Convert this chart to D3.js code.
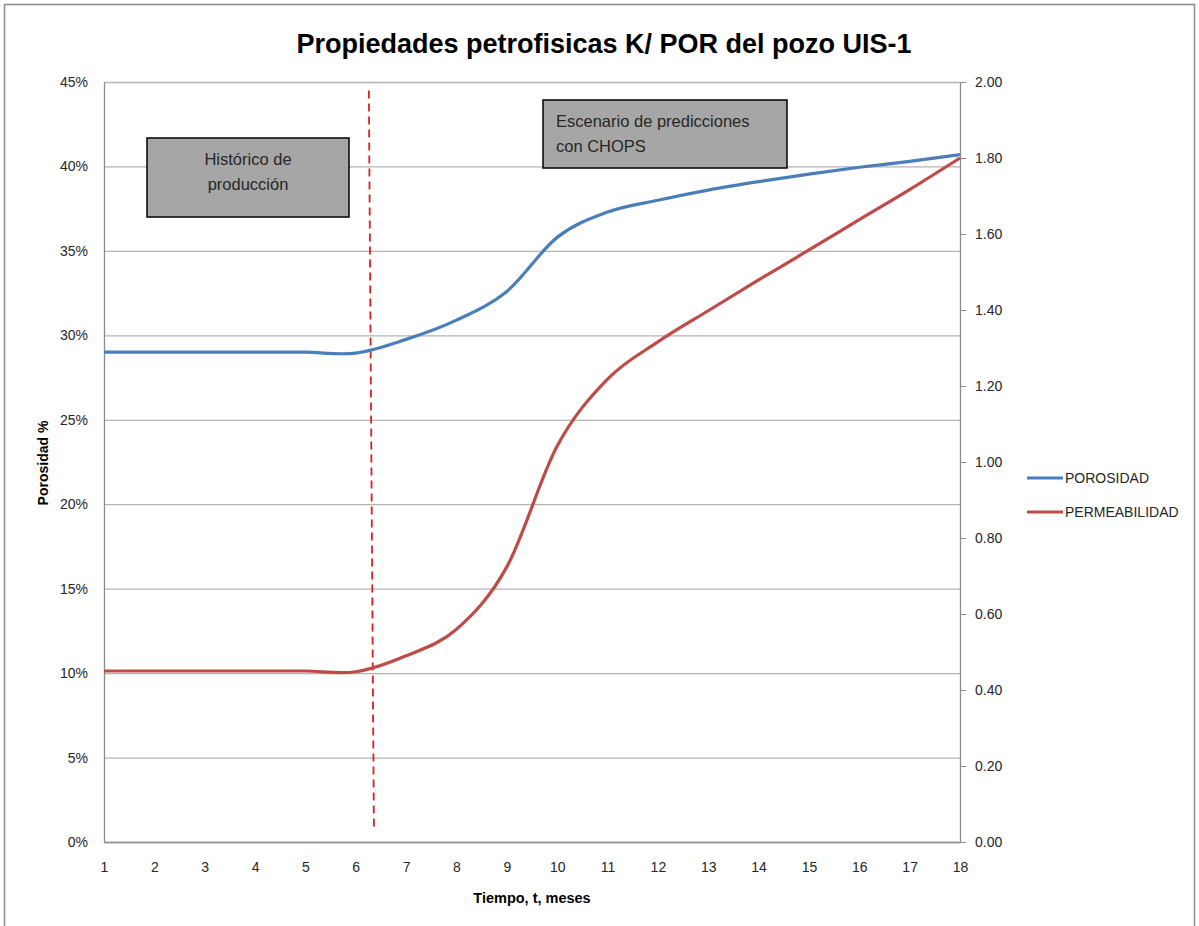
<!DOCTYPE html>
<html lang="es">
    <head>
        <meta charset="utf-8">
        <script src="https://d3js.org/d3.v7.min.js"></script>
        <title>Propiedades petrofisicas K/ POR del pozo UIS-1</title>
        <style>
            body { margin: 0; background: #ffffff; }
            text { font-family: "Liberation Sans", Arial, sans-serif; fill: #262626; }
        </style>
    </head>
    <body>
        <div id="chart"></div>
        <script type="text/javascript">
            // data
            var months = [1, 2, 3, 4, 5, 6, 7, 8, 9, 10, 11, 12, 13, 14, 15, 16, 17, 18];
            var porosidad = [29.0, 29.0, 29.0, 29.0, 29.0, 28.95, 29.76, 30.9, 32.6, 35.8, 37.3, 38.0, 38.6, 39.1, 39.55, 39.95, 40.3, 40.7];
            var permeabilidad = [0.45, 0.45, 0.45, 0.45, 0.45, 0.448, 0.49, 0.56, 0.724, 1.042, 1.218, 1.316, 1.398, 1.479, 1.558, 1.638, 1.717, 1.80];
            var porTicks = [0, 5, 10, 15, 20, 25, 30, 35, 40, 45];
            var permTicks = [0, 0.2, 0.4, 0.6, 0.8, 1.0, 1.2, 1.4, 1.6, 1.8, 2.0];
            var seriesNames = ["POROSIDAD", "PERMEABILIDAD"];
            var title = "Propiedades petrofisicas K/ POR del pozo UIS-1";
            var boxLabels = [["Histórico de", "producción"], ["Escenario de predicciones", "con CHOPS"]];

            var W = 1199, H = 926;
            var margin = {top: 82, right: 239, bottom: 84, left: 104},
                width = W - margin.left - margin.right,
                height = H - margin.top - margin.bottom;

            var blue = "#4a7ebb", red = "#be4b48";

            var root = d3.select("#chart")
                .append("svg")
                    .attr("width", W)
                    .attr("height", H);

            // outer chart border
            root.append("rect")
                .attr("x", 4.5).attr("y", 4.5)
                .attr("width", 1190).attr("height", 940)
                .attr("fill", "none")
                .attr("stroke", "#8c8c8c")
                .attr("stroke-width", 1.5);

            root.append("text")
                .attr("x", 604)
                .attr("y", 53)
                .attr("text-anchor", "middle")
                .style("font-size", "27px")
                .style("font-weight", "bold")
                .style("fill", "#000")
                .text(title);

            var svg = root.append("g")
                .attr("transform", "translate(" + margin.left + "," + margin.top + ")");

            var x = d3.scaleLinear().domain([1, 18]).range([0, width]);
            var yL = d3.scaleLinear().domain([0, 45]).range([height, 0]);
            var yR = d3.scaleLinear().domain([0, 2]).range([height, 0]);

            // horizontal gridlines (left axis)
            var grid = svg.append("g")
                .call(d3.axisLeft(yL).tickValues(porTicks).tickSize(-width).tickFormat(""));
            grid.select(".domain").remove();
            grid.selectAll("line").attr("stroke", "#b3b3b3").attr("stroke-width", 1.3);

            // left axis
            var left = svg.append("g")
                .call(d3.axisLeft(yL).tickValues(porTicks).tickSize(0).tickPadding(16)
                    .tickFormat(function(d) { return d + "%"; }));
            left.select(".domain").attr("stroke", "#8c8c8c").attr("stroke-width", 1.3);
            left.selectAll("text").style("font-size", "14px").style("font-family", "Liberation Sans").attr("fill", "#262626");

            // bottom axis
            var bottom = svg.append("g")
                .attr("transform", "translate(0," + height + ")")
                .call(d3.axisBottom(x).tickValues(months).tickSize(0).tickPadding(20)
                    .tickFormat(d3.format("d")));
            bottom.select(".domain").attr("stroke", "#8c8c8c").attr("stroke-width", 1.3);
            bottom.selectAll("text").style("font-size", "14px").style("font-family", "Liberation Sans").attr("fill", "#262626");

            // right axis
            var right = svg.append("g")
                .attr("transform", "translate(" + width + ",0)")
                .call(d3.axisRight(yR).tickValues(permTicks).tickSize(6).tickPadding(9)
                    .tickSizeOuter(0)
                    .tickFormat(d3.format(".2f")));
            right.select(".domain").attr("stroke", "#8c8c8c").attr("stroke-width", 1.3);
            right.selectAll("line").attr("stroke", "#8c8c8c");
            right.selectAll("text").style("font-size", "14px").style("font-family", "Liberation Sans").attr("fill", "#262626");

            // axis titles
            svg.append("text")
                .attr("text-anchor", "middle")
                .attr("x", 428)
                .attr("y", height + 61)
                .style("font-size", "14.5px")
                .style("font-weight", "bold")
                .style("fill", "#000")
                .text("Tiempo, t, meses");

            svg.append("text")
                .attr("text-anchor", "middle")
                .attr("transform", "rotate(-90)")
                .attr("x", -(463 - margin.top))
                .attr("y", -56)
                .style("font-size", "14px")
                .style("font-weight", "bold")
                .style("fill", "#000")
                .text("Porosidad %");

            // annotation boxes
            var boxes = [
                {x0: 147, y0: 138, x1: 349, y1: 217, anchor: "middle", tx: 248, ty: 165},
                {x0: 543, y0: 100, x1: 787, y1: 168, anchor: "start", tx: 556, ty: 127}
            ];
            boxes.forEach(function(b, i) {
                root.append("rect")
                    .attr("x", b.x0).attr("y", b.y0)
                    .attr("width", b.x1 - b.x0).attr("height", b.y1 - b.y0)
                    .attr("fill", "#a6a6a6")
                    .attr("stroke", "#000")
                    .attr("stroke-width", 1.5);
                boxLabels[i].forEach(function(line, j) {
                    root.append("text")
                        .attr("x", b.tx)
                        .attr("y", b.ty + j * 25)
                        .attr("text-anchor", b.anchor)
                        .style("font-size", "16.5px")
                        .text(line);
                });
            });

            // dashed separator between history and prediction
            svg.append("line")
                .attr("x1", x(6.26)).attr("y1", yL(44.5))
                .attr("x2", x(6.36)).attr("y2", yL(0.8))
                .attr("stroke", "#dc1f1f")
                .attr("stroke-width", 1.8)
                .attr("stroke-dasharray", "8,5");

            // smoothed lines like Excel
            var linePor = d3.line()
                .x(function(d, i) { return x(months[i]); })
                .y(function(d) { return yL(d); })
                .curve(d3.curveCardinal.tension(0));
            var linePerm = d3.line()
                .x(function(d, i) { return x(months[i]); })
                .y(function(d) { return yR(d); })
                .curve(d3.curveCardinal.tension(0));

            svg.append("path")
                .datum(porosidad)
                .attr("fill", "none")
                .attr("stroke", blue)
                .attr("stroke-width", 3.2)
                .attr("d", linePor);

            svg.append("path")
                .datum(permeabilidad)
                .attr("fill", "none")
                .attr("stroke", red)
                .attr("stroke-width", 3.2)
                .attr("d", linePerm);

            // legend
            var legend = root.append("g").attr("transform", "translate(1027,478)");
            [blue, red].forEach(function(c, i) {
                legend.append("line")
                    .attr("x1", 0).attr("x2", 36)
                    .attr("y1", i * 34).attr("y2", i * 34)
                    .attr("stroke", c)
                    .attr("stroke-width", 3.2);
                legend.append("text")
                    .attr("x", 38)
                    .attr("y", i * 34 + 5)
                    .style("font-size", "14px")
                    .text(seriesNames[i]);
            });
        </script>
    </body>
</html>
